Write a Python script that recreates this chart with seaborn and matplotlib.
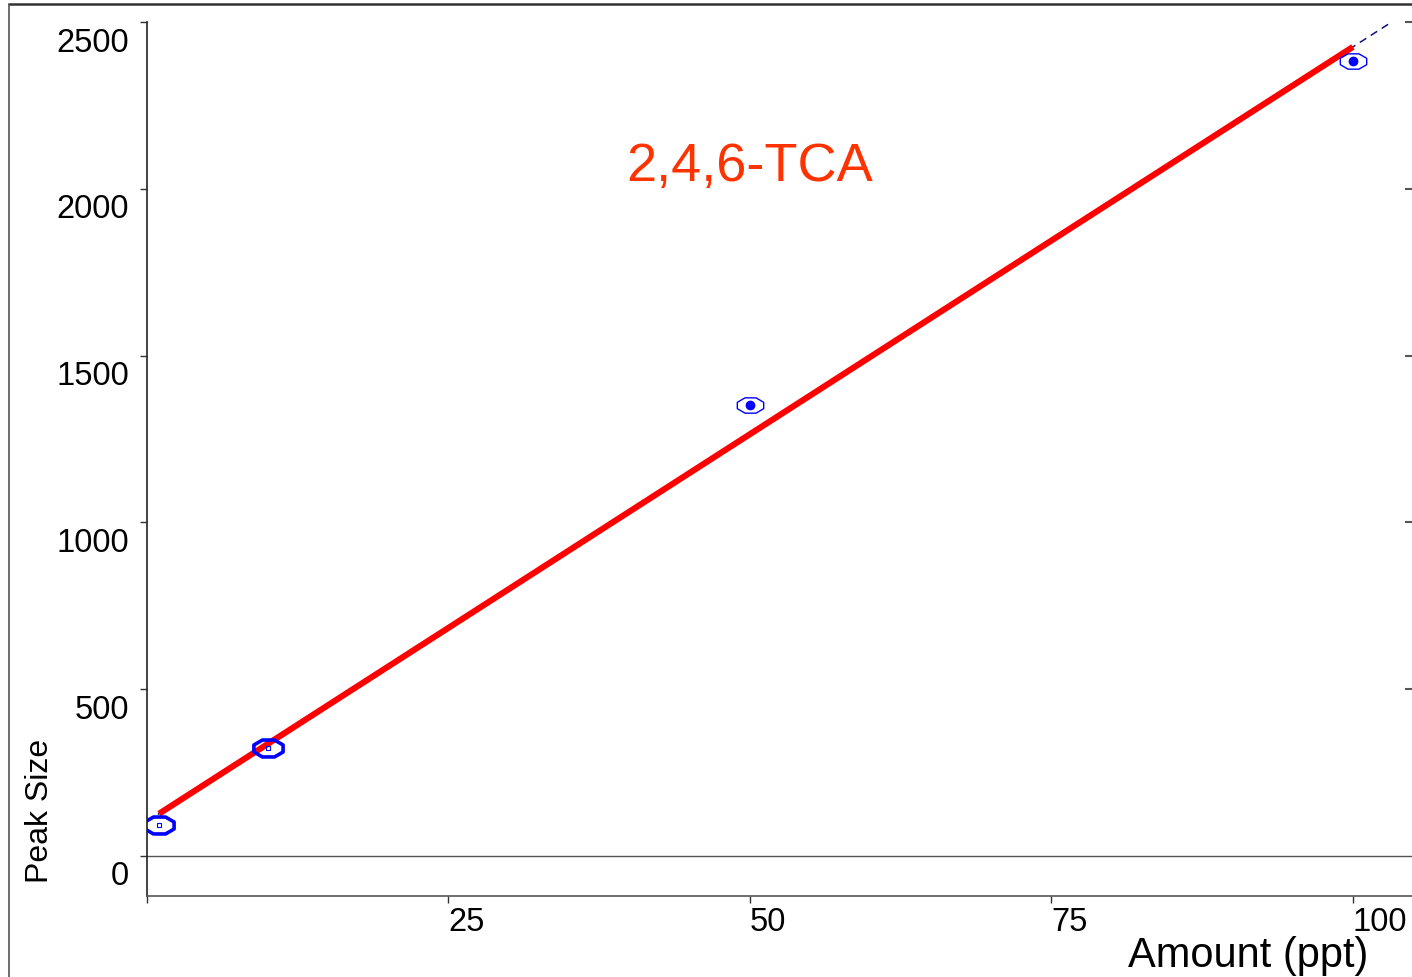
import numpy as np
import pandas as pd
import matplotlib
matplotlib.use("Agg")
import matplotlib.pyplot as plt
from matplotlib.path import Path
from matplotlib.lines import Line2D
from matplotlib.transforms import ScaledTranslation
import seaborn as sns

# calibration standards
amount_ppt = [1, 10, 50, 100]
peak_size = [93, 324, 1352, 2383]
compound = "2,4,6-TCA"
x_ticks = [0, 25, 50, 75, 100]
x_tick_labels = ["", "25", "50", "75", "100"]
y_ticks = [0, 500, 1000, 1500, 2000, 2500]
y_tick_labels = ["0", "500", "1000", "1500", "2000", "2500"]

df = pd.DataFrame({"amount": amount_ppt, "peak": peak_size})

sns.set_theme(style="white")
plt.rcParams["font.family"] = ["Liberation Sans", "DejaVu Sans"]
plt.rcParams["text.color"] = "black"

fig = plt.figure(figsize=(14.12, 9.78), dpi=100)
ax = fig.add_axes([147 / 1412, 81 / 978, 1265 / 1412, 874 / 978])

# flattened octagon marker
ang = np.deg2rad(22.5 + 45 * np.arange(8))
verts = np.column_stack([np.cos(ang), 0.58 * np.sin(ang)])
verts = np.vstack([verts, verts[:1]])
octagon = Path(verts, [Path.MOVETO] + [Path.LINETO] * 7 + [Path.CLOSEPOLY])

# least-squares calibration line
slope, intercept = np.polyfit(amount_ppt, peak_size, 1)
xx = np.array([0, 106])
ax.plot(xx, intercept + slope * xx, color="#101080", lw=1.1, ls=(0, (5, 3.5)), zorder=2)
sns.regplot(data=df, x="amount", y="peak", ci=None, scatter=False, truncate=True,
            line_kws=dict(color="#ff0000", lw=4.4, solid_capstyle="butt", zorder=3), ax=ax)

# standards: thick rings for low levels, thin rings with dot for high levels
edge_w = [2.6, 2.6, 1.0, 1.0]
ring_size = [21, 21, 19, 19]
for i, (xv, yv) in enumerate(zip(amount_ppt, peak_size)):
    ax.plot(xv, yv, marker=octagon, ms=ring_size[i], mfc="none", mec="#0000ff",
            mew=edge_w[i], zorder=4)
    if i < 2:
        ax.plot(xv, yv, marker="s", ms=3, mfc="none", mec="#0000ff", mew=0.8, zorder=5)
    else:
        ax.plot(xv, yv, marker="o", ms=6, mfc="#0000ff", mec="#0000ff", zorder=5)

ax.axhline(0, color="#555555", lw=1.0, zorder=1)

ax.set_xlim(0, 104.9)
ax.set_ylim(-120, 2500)
ax.set_xlabel("")
ax.set_ylabel("")

ax.set_xticks(x_ticks)
ax.set_xticklabels(x_tick_labels, fontsize=23.5)
ax.set_yticks(y_ticks)
ax.set_yticklabels(y_tick_labels, fontsize=23.5)

ax.tick_params(axis="x", direction="out", length=5, width=1, color="#333333", pad=2,
               bottom=True, labelcolor="black")
ax.tick_params(axis="y", direction="out", length=5, width=1, color="#333333", pad=8,
               left=True, labelcolor="black")

for lab in ax.get_xticklabels():
    lab.set_horizontalalignment("left")
offset = ScaledTranslation(0, -0.165, fig.dpi_scale_trans)
for tick in ax.yaxis.get_major_ticks():
    tick.label1.set_transform(tick.label1.get_transform() + offset)

for side in ["top", "right"]:
    ax.spines[side].set_visible(False)
ax.spines["left"].set_color("#222222")
ax.spines["left"].set_linewidth(1.2)
ax.spines["bottom"].set_color("#555555")
ax.spines["bottom"].set_linewidth(1.2)

# inward ticks on the right edge
ax2 = ax.twinx()
ax2.set_ylim(ax.get_ylim())
ax2.set_yticks(y_ticks[1:])
ax2.set_yticklabels([])
ax2.tick_params(axis="y", direction="in", length=5, width=1.5, color="#555555", right=True)
for side in ["top", "right", "left", "bottom"]:
    ax2.spines[side].set_visible(False)
ax2.grid(False)

ax.text(50, 2068, compound, color="#ff3300", fontsize=39, ha="center", va="center")

fig.text(1368 / 1412, 11 / 978, "Amount (ppt)", fontsize=30, ha="right", va="baseline",
         color="black")
fig.text(40 / 1412, 95 / 978, "Peak Size", fontsize=23, rotation=90, ha="center", va="bottom",
         color="black")

# outer frame
fig.add_artist(Line2D([9 / 1412, 1.0], [1 - 5 / 978, 1 - 5 / 978], transform=fig.transFigure,
                      color="#333333", lw=1.8))
fig.add_artist(Line2D([9 / 1412, 9 / 1412], [0, 1 - 5 / 978], transform=fig.transFigure,
                      color="#555555", lw=1.2))

fig.savefig("out.png", dpi=100)
